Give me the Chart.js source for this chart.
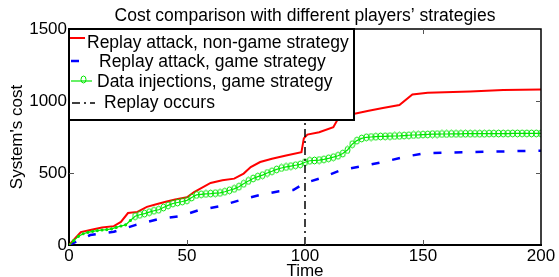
<!DOCTYPE html>
<html>
<head>
<meta charset="utf-8">
<script src="https://cdn.jsdelivr.net/npm/chart.js@4.4.1/dist/chart.umd.min.js"></script>
<style>
  html, body { margin: 0; padding: 0; background: #fff; }
  #contenedor { width: 559px; height: 277px; }
</style>
</head>
<body>
<div id="contenedor"><canvas id="grafo"></canvas></div>
<script>
// datos
const ticksX = [0, 50, 100, 150, 200];
const ticksY = [0, 500, 1000, 1500];

// Replay attack, non-game strategy (rojo)
const tiempoRojo = [0, 5, 10, 14, 19, 22, 25, 29, 33, 37, 41, 45, 50, 53, 60, 65, 70, 74, 77, 81, 86, 92, 98.5, 99.5, 101, 106, 112, 114, 116, 121, 127, 133, 140, 145.5, 152, 170, 184, 200];
const costeRojo = [0, 90, 108, 122, 131, 160, 222, 230, 265, 283, 300, 316, 332, 368, 431, 449, 461, 496, 541, 576, 599, 622, 645, 740, 767, 783, 818, 876, 910, 912, 933, 952, 972, 1045, 1058, 1066, 1076, 1080];

// Replay attack, game strategy (azul)
const tiempoAzul = [0, 9, 19, 28, 38, 47, 55, 64, 73, 82, 89, 95, 99, 100, 106, 115, 126, 133, 143, 151, 170, 190, 200];
const costeAzul = [0, 69, 92, 138, 180, 200, 242, 270, 314, 352, 373, 382, 420, 430, 461, 518, 553, 576, 615, 638, 645, 652, 655];

// Data injections, game strategy (verde), un punto cada 2 unidades
const tiempoVerde = [0, 2, 4, 6, 8, 10, 12, 14, 16, 18, 20, 22, 24, 26, 28, 30, 32, 34, 36, 38, 40, 42, 44, 46, 48, 50,
  52, 54, 56, 58, 60, 62, 64, 66, 68, 70, 72, 74, 76, 78, 80, 82, 84, 86, 88, 90, 92, 94, 96, 98, 100,
  102, 104, 106, 108, 110, 112, 114, 116, 118, 120, 122, 124, 126, 128, 130, 132, 134, 136, 138, 140, 142, 144, 146, 148, 150,
  152, 154, 156, 158, 160, 162, 164, 166, 168, 170, 172, 174, 176, 178, 180, 182, 184, 186, 188, 190, 192, 194, 196, 198, 200];
const costeVerde = [0, 30, 60, 78, 88, 95, 100, 104, 107, 112, 122, 132, 140, 170, 200, 210, 218, 228, 238, 245, 260, 275, 288, 295, 302, 310,
  330, 348, 352, 355, 357, 360, 362, 370, 380, 390, 405, 425, 445, 462, 475, 485, 500, 512, 525, 535, 542, 548, 554, 560, 575,
  585, 587, 590, 595, 602, 610, 620, 635, 660, 700, 725, 740, 748, 750, 752, 754, 755, 756, 757, 758, 760, 762, 764, 765, 767,
  768, 770, 770, 771, 771, 772, 772, 772, 773, 773, 773, 773, 773, 774, 774, 774, 774, 774, 775, 775, 775, 775, 775, 775, 775];

// Replay occurs
const tiempoReplay = [100, 100];
const costeReplay = [0, 1500];

const fuente = "'Liberation Sans', Arial, Helvetica, sans-serif";

function puntos(xs, ys) {
  return xs.map((x, i) => ({x: x, y: ys[i]}));
}

// circulo achatado como en la figura original
const circuloVerde = document.createElement('canvas');
circuloVerde.width = 7;
circuloVerde.height = 9;
const cc = circuloVerde.getContext('2d');
cc.strokeStyle = '#00e600';
cc.lineWidth = 1;
cc.beginPath();
cc.ellipse(3.5, 4.5, 2.5, 3.5, 0, 0, 2 * Math.PI);
cc.stroke();

// marco de ejes con ticks hacia dentro
const marcoEjes = {
  id: 'marcoEjes',
  afterDatasetsDraw(chart) {
    const ctx = chart.ctx;
    const a = chart.chartArea;
    const sx = chart.scales.x, sy = chart.scales.y;
    ctx.save();
    ctx.strokeStyle = '#000';
    ctx.lineWidth = 1.5;
    ctx.beginPath();
    ctx.moveTo(a.left, a.top);
    ctx.lineTo(a.right, a.top);
    ctx.lineTo(a.right, a.bottom);
    ctx.stroke();
    ctx.lineWidth = 1;
    ctx.strokeStyle = '#555';
    ctx.beginPath();
    ticksX.slice(1, -1).forEach(t => {
      const px = Math.round(sx.getPixelForValue(t)) + 0.5;
      ctx.moveTo(px, a.bottom); ctx.lineTo(px, a.bottom - 5);
      ctx.moveTo(px, a.top); ctx.lineTo(px, a.top + 5);
    });
    ticksY.slice(1, -1).forEach(t => {
      const py = Math.round(sy.getPixelForValue(t)) + 0.5;
      ctx.moveTo(a.left, py); ctx.lineTo(a.left + 5, py);
      ctx.moveTo(a.right, py); ctx.lineTo(a.right - 5, py);
    });
    ctx.stroke();
    ctx.restore();
  }
};

// leyenda dibujada a mano dentro del area
const leyenda = {
  id: 'leyenda',
  afterDraw(chart) {
    const ctx = chart.ctx;
    const a = chart.chartArea;
    const x0 = a.left, y0 = a.top;
    ctx.save();
    ctx.fillStyle = '#fff';
    ctx.fillRect(x0, y0, 285, 91);
    ctx.strokeStyle = '#000';
    ctx.lineWidth = 2;
    ctx.strokeRect(x0, y0, 285, 91);

    const items = [
      {i: 0, ly: 9, x1: 1, x2: 16, tx: 18, ty: 14},
      {i: 1, ly: 32, x1: 2, x2: 20, tx: 30, ty: 33},
      {i: 2, ly: 52, x1: 2, x2: 23, tx: 28, ty: 53},
      {i: 3, ly: 74, x1: 3, x2: 26, tx: 35, ty: 74}
    ];
    items.forEach(it => {
      const ds = chart.data.datasets[it.i];
      ctx.strokeStyle = ds.borderColor;
      ctx.lineWidth = ds.borderWidth;
      ctx.setLineDash(ds.borderDash || []);
      ctx.beginPath();
      ctx.moveTo(x0 + it.x1, y0 + it.ly);
      ctx.lineTo(x0 + it.x2, y0 + it.ly);
      ctx.stroke();
      ctx.setLineDash([]);
      if (it.i === 2) {
        ctx.drawImage(circuloVerde, x0 + 11, y0 + it.ly - 6);
      }
      ctx.fillStyle = '#000';
      ctx.font = '17.5px ' + fuente;
      ctx.textBaseline = 'middle';
      ctx.fillText(ds.label, x0 + it.tx, y0 + it.ty);
    });
    ctx.restore();
  }
};

const $grafo = document.querySelector('#grafo');

new Chart($grafo, {
  type: 'line',
  data: {
    datasets: [
      {
        label: 'Replay attack, non-game strategy',
        data: puntos(tiempoRojo, costeRojo),
        borderColor: '#ff0000',
        borderWidth: 2,
        pointRadius: 0,
        order: 2
      },
      {
        label: 'Replay attack, game strategy',
        data: puntos(tiempoAzul, costeAzul),
        borderColor: '#0000ff',
        borderWidth: 2.5,
        borderDash: [8, 13],
        pointRadius: 0,
        order: 3
      },
      {
        label: 'Data injections, game strategy',
        data: puntos(tiempoVerde, costeVerde),
        borderColor: '#00e600',
        borderWidth: 1.2,
        pointStyle: (c) => (c.raw && c.raw.x < 28) ? 'circle' : circuloVerde,
        pointRadius: (c) => (c.raw && c.raw.x < 28) ? 1 : 3,
        pointBorderColor: '#00e600',
        pointBackgroundColor: '#00e600',
        order: 1
      },
      {
        label: 'Replay occurs',
        data: puntos(tiempoReplay, costeReplay),
        borderColor: '#000',
        borderWidth: 1.5,
        borderDash: [8, 4, 2, 4],
        pointRadius: 0,
        order: 0
      }
    ]
  },
  options: {
    responsive: true,
    maintainAspectRatio: false,
    animation: false,
    layout: { padding: { left: 0, right: 18, top: 0, bottom: 0 } },
    plugins: {
      legend: { display: false },
      tooltip: { enabled: false },
      title: {
        display: true,
        fullSize: false,
        text: 'Cost comparison with different players\u2019 strategies',
        color: '#000',
        font: { family: fuente, size: 17.5, weight: 'normal', lineHeight: 1 },
        padding: { top: 7, bottom: 4.5 }
      }
    },
    scales: {
      x: {
        type: 'linear',
        min: 0,
        max: 200,
        afterFit: (s) => { s.height = 32; },
        afterBuildTicks: (s) => { s.ticks = ticksX.map(v => ({value: v})); },
        ticks: { color: '#000', font: { family: fuente, size: 17 }, padding: 1, maxRotation: 0 },
        grid: { display: false, drawTicks: false },
        border: { display: true, color: '#000', width: 2 },
        title: {
          display: true,
          text: 'Time',
          color: '#000',
          font: { family: fuente, size: 17 },
          padding: { top: 0, bottom: -5 }
        }
      },
      y: {
        min: 0,
        max: 1500,
        afterFit: (s) => { s.width = 69; },
        afterBuildTicks: (s) => { s.ticks = ticksY.map(v => ({value: v})); },
        ticks: {
          color: '#000',
          font: { family: fuente, size: 17 },
          padding: 2,
          callback: (v) => String(v)
        },
        grid: { display: false, drawTicks: false },
        border: { display: true, color: '#000', width: 2 },
        title: {
          display: true,
          text: "System's cost",
          color: '#000',
          font: { family: fuente, size: 17 },
          padding: { top: 7, bottom: 0 }
        }
      }
    }
  },
  plugins: [marcoEjes, leyenda]
});
</script>
</body>
</html>
